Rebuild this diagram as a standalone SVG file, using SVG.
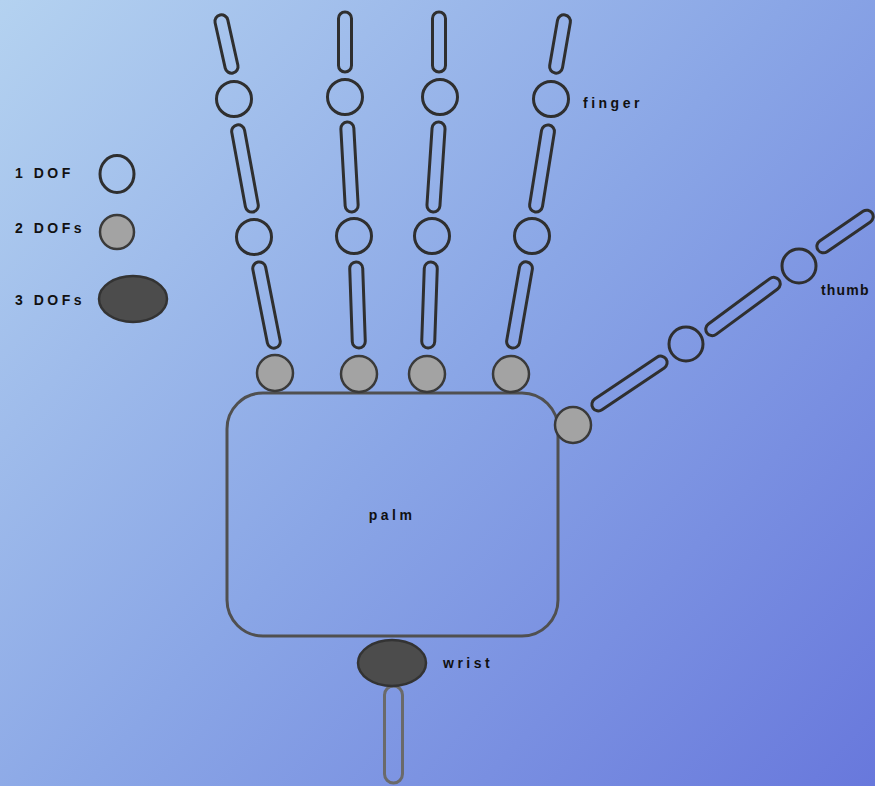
<svg xmlns="http://www.w3.org/2000/svg" width="875" height="786" viewBox="0 0 875 786">
  <defs>
    <linearGradient id="bg" x1="0" y1="0" x2="875" y2="786" gradientUnits="userSpaceOnUse">
      <stop offset="0" stop-color="#b4d2f0"/>
      <stop offset="0.5" stop-color="#8aa6e6"/>
      <stop offset="1" stop-color="#6878dc"/>
    </linearGradient>
  </defs>
  <style>
    .lbl { font-family: "Liberation Sans", Arial, sans-serif; font-size: 14px; font-weight: bold; fill: #111; letter-spacing: 3.5px; }
    .link { fill: none; stroke: #2f2f2f; stroke-width: 3; }
    .j1 { fill: none; stroke: #2f2f2f; stroke-width: 3; }
    .j2 { fill: #a3a3a3; stroke: #3a3a3a; stroke-width: 2.5; }
    .j3 { fill: #4c4c4c; stroke: #333; stroke-width: 2.5; }
    .palm { fill: none; stroke: #505050; stroke-width: 3; }
    .wristlink { fill: none; stroke: #6a6a6a; stroke-width: 3; }
  </style>

  <rect width="875" height="786" fill="url(#bg)"/>

  <!-- legend -->
  <g id="legend">
    <text class="lbl" x="15" y="178">1 DOF</text>
    <ellipse class="j1" cx="117" cy="174" rx="17" ry="18.5"/>
    <text class="lbl" x="15" y="233">2 DOFs</text>
    <circle class="j2" cx="117" cy="232" r="17"/>
    <text class="lbl" x="15" y="305">3 DOFs</text>
    <ellipse class="j3" cx="133" cy="299" rx="34" ry="23"/>
  </g>

  <!-- palm -->
  <g id="palm">
    <rect class="palm" x="227" y="393" width="331" height="243" rx="36" ry="36"/>
    <text class="lbl" x="392" y="520" text-anchor="middle">palm</text>
  </g>

  <!-- bones between joints -->
  <g id="connectors">
    <!-- finger 1 -->
    <rect class="link" x="-6.5" y="-29.7" width="13" height="59.4" rx="6.5" transform="translate(226.5,44) rotate(-12.6)"/>
    <rect class="link" x="-6.5" y="-44.3" width="13" height="88.5" rx="6.5" transform="translate(245,168.5) rotate(-10.4)"/>
    <rect class="link" x="-6.5" y="-43.8" width="13" height="87.7" rx="6.5" transform="translate(266.5,305) rotate(-11.2)"/>
    <!-- finger 2 -->
    <rect class="link" x="-6.5" y="-30" width="13" height="60" rx="6.5" transform="translate(345,42)"/>
    <rect class="link" x="-6.5" y="-45" width="13" height="90" rx="6.5" transform="translate(349.5,167) rotate(-3.2)"/>
    <rect class="link" x="-6.5" y="-43" width="13" height="86" rx="6.5" transform="translate(357.5,305) rotate(-2)"/>
    <!-- finger 3 -->
    <rect class="link" x="-6.5" y="-30" width="13" height="60" rx="6.5" transform="translate(439,42)"/>
    <rect class="link" x="-6.5" y="-45" width="13" height="90" rx="6.5" transform="translate(436,167) rotate(3.8)"/>
    <rect class="link" x="-6.5" y="-43" width="13" height="86" rx="6.5" transform="translate(429.5,305) rotate(2)"/>
    <!-- finger 4 -->
    <rect class="link" x="-6.5" y="-29.5" width="13" height="59" rx="6.5" transform="translate(560,44) rotate(9.8)"/>
    <rect class="link" x="-6.5" y="-44" width="13" height="88" rx="6.5" transform="translate(542,168.5) rotate(9.1)"/>
    <rect class="link" x="-6.5" y="-43.7" width="13" height="87.3" rx="6.5" transform="translate(519.5,305) rotate(9.9)"/>
    <!-- thumb -->
    <rect class="link" x="-44" y="-6.5" width="88" height="13" rx="6.5" transform="translate(629.5,383.5) rotate(-33.9)"/>
    <rect class="link" x="-44.7" y="-6.5" width="89.4" height="13" rx="6.5" transform="translate(743,306.5) rotate(-36.4)"/>
    <rect class="link" x="-32.7" y="-6.5" width="65.5" height="13" rx="6.5" transform="translate(845,231.5) rotate(-34.4)"/>
    <!-- wrist -->
    <rect class="wristlink" x="384.5" y="686" width="18" height="97" rx="9"/>
  </g>

  <!-- finger joints -->
  <g id="finger1">
    <circle class="j1" cx="234" cy="99" r="17.5"/>
    <circle class="j1" cx="254" cy="237" r="17.5"/>
    <circle class="j2" cx="275" cy="373" r="18"/>
  </g>
  <g id="finger2">
    <circle class="j1" cx="345" cy="97" r="17.5"/>
    <circle class="j1" cx="354" cy="236" r="17.5"/>
    <circle class="j2" cx="359" cy="374" r="18"/>
  </g>
  <g id="finger3">
    <circle class="j1" cx="440" cy="97" r="17.5"/>
    <circle class="j1" cx="432" cy="236" r="17.5"/>
    <circle class="j2" cx="427" cy="374" r="18"/>
  </g>
  <g id="finger4">
    <circle class="j1" cx="551" cy="99" r="17.5"/>
    <circle class="j1" cx="532" cy="236" r="17.5"/>
    <circle class="j2" cx="511" cy="374" r="18"/>
    <text class="lbl" x="583" y="108">finger</text>
  </g>

  <!-- thumb joints -->
  <g id="thumb">
    <circle class="j2" cx="573" cy="425" r="18"/>
    <circle class="j1" cx="686" cy="344" r="17"/>
    <circle class="j1" cx="799" cy="266" r="17"/>
    <text class="lbl" x="821" y="295" style="letter-spacing:1.2px">thumb</text>
  </g>

  <!-- wrist joint -->
  <g id="wrist">
    <ellipse class="j3" cx="392" cy="663" rx="34" ry="23"/>
    <text class="lbl" x="443" y="668">wrist</text>
  </g>
</svg>
